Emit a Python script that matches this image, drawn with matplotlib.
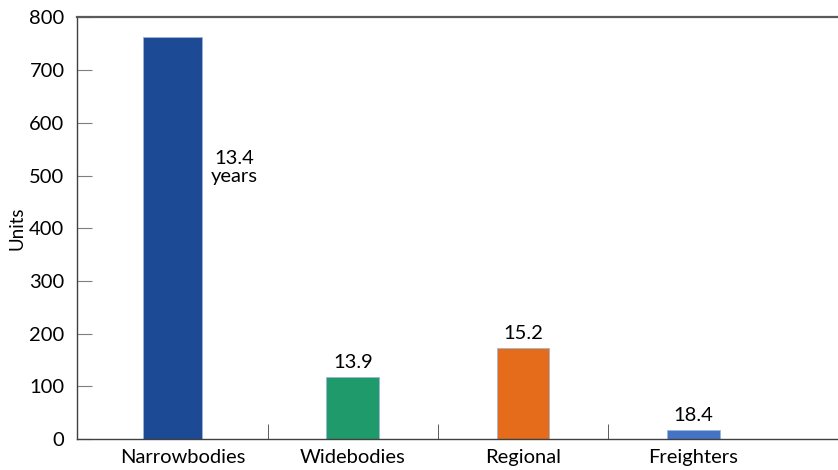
import matplotlib
matplotlib.use('Agg')
import matplotlib.pyplot as plt

plt.rcParams['font.family'] = ['Lato', 'DejaVu Sans']

categories = ['Narrowbodies', 'Widebodies', 'Regional', 'Freighters']
units = [763, 118, 173, 17]
avg_age = ['13.4\nyears', '13.9', '15.2', '18.4']
colors = ['#1D4A94', '#1E9A6B', '#E46C1B', '#4573C6']

# narrowbodies bar sits a bit left and is a little wider than the rest
xpos = [-0.06, 1, 2, 3]
widths = [0.35, 0.31, 0.31, 0.31]

fig = plt.figure(figsize=(8.38, 4.70), dpi=100)
ax = fig.add_axes([77 / 838, 31 / 470, 1 - 77 / 838, (439 - 17.5) / 470])

ax.bar(xpos, units, width=widths, color=colors, edgecolor='#9DB5DA', linewidth=0.6, zorder=2)

# value labels
for i, (x, w, v, t) in enumerate(zip(xpos, widths, units, avg_age)):
    if i == 0:
        ax.text(x + w / 2 + 0.19, 515, t, ha='center', va='center', fontsize=14.5,
                linespacing=1.1)
    else:
        ax.text(x, v + 12, t, ha='center', va='bottom', fontsize=14.5)

ax.set_xlim(-0.62, 3.85)
ax.set_ylim(0, 800)
ax.set_yticks(range(0, 801, 100))
ax.set_xticks(range(4))
ax.set_xticklabels(categories)
ax.tick_params(axis='x', length=0, labelsize=14.5, pad=7)
ax.tick_params(axis='y', direction='in', length=11, color='#7f7f7f', labelsize=14.5, pad=9)

# category separators along the bottom
ax.set_xticks([0.5, 1.5, 2.5], minor=True)
ax.tick_params(axis='x', which='minor', direction='in', length=11, color='#404040')

ax.set_ylabel('Units', fontsize=13.5, labelpad=3)

ax.spines['right'].set_visible(False)
ax.spines['top'].set_color('#5a5a5a')
ax.spines['top'].set_linewidth(1.6)
ax.spines['left'].set_color('#404040')
ax.spines['bottom'].set_color('#404040')
ax.spines['left'].set_linewidth(1.0)
ax.spines['bottom'].set_linewidth(1.0)

fig.savefig('out.png', dpi=100)
